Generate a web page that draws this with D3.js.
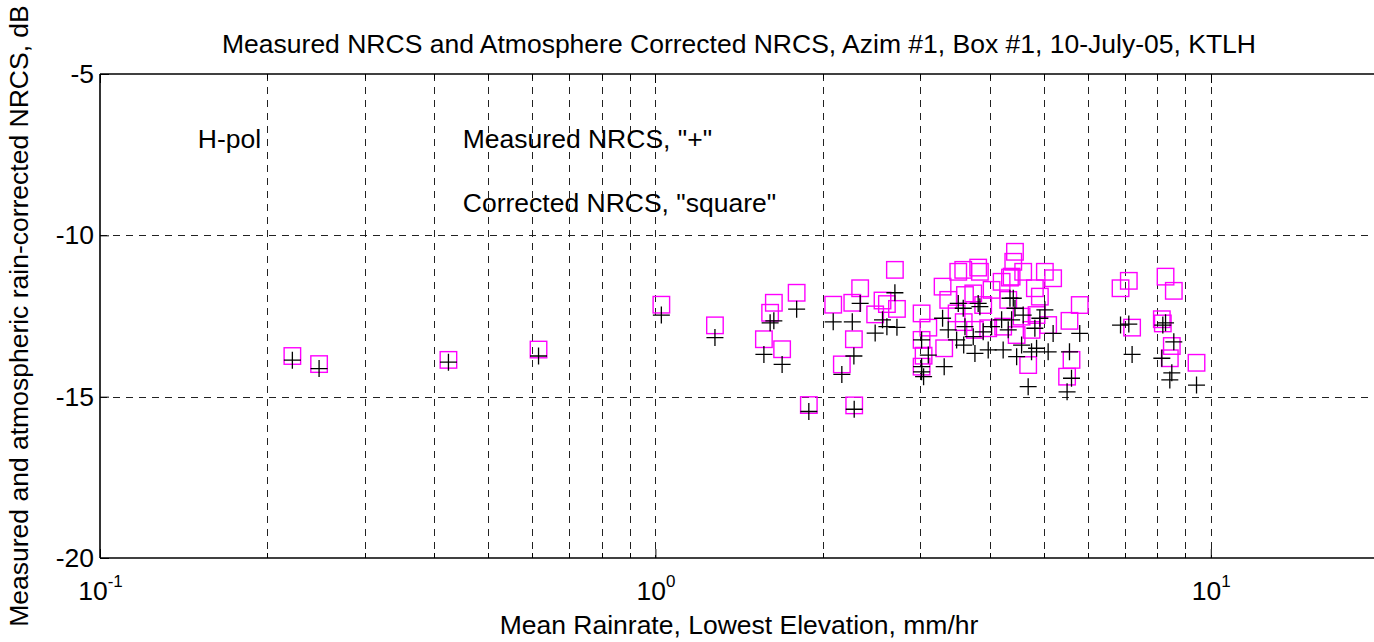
<!DOCTYPE html>
<html>
<head>
<meta charset="utf-8">
<script src="https://cdn.jsdelivr.net/npm/d3@7"></script>
<style>
  body { margin: 0; background: #fff; }
  text { font-family: "Liberation Sans", Arial, Helvetica, sans-serif; fill: #000; }
</style>
</head>
<body>
<svg id="chart" width="1374" height="642"></svg>
<script>
// Mean rain rate at the lowest elevation (mm/hr), one entry per sample
const rainRate = [
  0.222, 0.248, 0.424, 0.616, 1.025, 1.28, 1.634, 1.609, 1.796, 1.568, 1.691, 1.889,
  2.09, 2.262, 2.337, 2.699, 2.277, 2.166, 2.28, 2.564, 2.611, 2.487, 2.722,
  3.015, 3.10, 3.015, 3.04, 3.015, 3.311, 3.289, 3.367, 3.510, 3.583, 3.812, 3.839,
  3.609, 3.735, 3.486, 3.892, 4.030, 3.974, 4.201, 4.349, 4.440, 4.409, 4.379, 4.594,
  4.318, 4.822, 4.923, 5.026, 5.201, 4.564, 4.856, 5.095, 4.690, 4.228, 3.761, 3.59,
  4.471, 4.756,
  5.808, 5.566, 5.613, 5.511, 6.878, 7.118, 7.216, 8.289, 8.578, 8.162, 8.196, 8.507,
  8.437, 9.425
];

// Measured NRCS, dB ("+")
const measuredNRCS = [
  -13.87, -14.13, -13.93, -13.74, -12.47, -13.17, -12.65, -12.71, -12.29, -13.69, -14.00, -15.46,
  -12.68, -12.68, -12.11, -11.78, -13.74, -14.31, -15.39, -12.62, -12.83, -13.03, -12.85,
  -13.24, -13.71, -14.07, -14.38, -14.23, -14.07, -12.57, -12.93, -12.11, -12.26, -12.11, -12.21,
  -12.83, -13.14, -13.24, -12.99, -12.83, -13.55, -12.62, -11.95, -12.26, -11.95, -12.62, -12.47,
  -12.93, -12.88, -12.57, -12.31, -13.04, -13.40, -13.50, -13.61, -14.69, -13.55, -13.66, -13.40,
  -13.76, -13.61,
  -13.04, -13.61, -14.43, -14.85, -12.78, -12.75, -13.69, -12.71, -13.30, -13.81, -12.78, -14.26,
  -14.48, -14.64
];

// Atmosphere / rain corrected NRCS, dB ("square")
const correctedNRCS = [
  -13.74, -13.99, -13.86, -13.54, -12.15, -12.79, -12.09, -12.40, -11.78, -13.22, -13.53, -15.26,
  -12.15, -12.09, -11.64, -11.07, -13.22, -14.00, -15.27, -12.02, -12.13, -12.45, -12.28,
  -12.42, -12.86, -13.24, -13.73, -14.07, -13.50, -11.59, -12.00, -11.13, -11.07, -11.00, -11.13,
  -11.85, -11.80, -12.42, -12.16, -11.69, -12.88, -11.44, -11.31, -10.51, -10.82, -11.28, -11.13,
  -12.00, -11.64, -11.90, -11.13, -11.33, -12.52, -12.47, -12.78, -14.02, -12.83, -12.93, -12.69,
  -13.09, -12.93,
  -12.16, -12.65, -13.86, -14.38, -11.64, -11.41, -12.86, -11.28, -11.72, -12.60, -12.73, -13.43,
  -13.81, -13.95
];

// Axis ticks
const yTicks = [-20, -15, -10, -5];
const xMajorTicks = [0.1, 1, 10];
const xMajorLabels = ["-1", "0", "1"];
const xMinorTicks = [0.2, 0.3, 0.4, 0.5, 0.6, 0.7, 0.8, 0.9, 2, 3, 4, 5, 6, 7, 8, 9];

// Text annotations placed in data coordinates
const notes = [
  { x: 0.15, y: -7, text: "H-pol" },
  { x: 0.45, y: -7, text: "Measured NRCS, \"+\"" },
  { x: 0.45, y: -9, text: "Corrected NRCS, \"square\"" }
];

const titleText = "Measured NRCS and Atmosphere Corrected NRCS, Azim #1, Box #1, 10-July-05, KTLH";
const xLabel = "Mean Rainrate, Lowest Elevation, mm/hr";
const yLabel = "Measured and atmospheric rain-corrected NRCS, dB";

const svg = d3.select("#chart");
const W = 1374, H = 642;
const plotL = 100, plotT = 74, plotR = 1378, plotB = 558;

svg.append("rect").attr("width", W).attr("height", H).attr("fill", "#fff");

const x = d3.scaleLog().domain([0.1, 20]).range([plotL, plotR]);
const y = d3.scaleLinear().domain([-20, -5]).range([plotB, plotT]);

const fontSize = 26.5;
const px = v => Math.round(v) + 0.5;

// Grid lines
const grid = svg.append("g").attr("stroke", "#222").attr("stroke-width", 1)
  .attr("stroke-dasharray", "7,6").attr("fill", "none");
grid.selectAll("line.vx")
  .data(xMinorTicks.concat([1, 10]))
  .join("line")
  .attr("x1", d => px(x(d))).attr("x2", d => px(x(d)))
  .attr("y1", plotT).attr("y2", plotB);
grid.selectAll("line.hy")
  .data([-10, -15])
  .join("line")
  .attr("x1", plotL).attr("x2", plotR)
  .attr("y1", d => px(y(d))).attr("y2", d => px(y(d)));

// Axes (ticks point inward)
const yAxis = svg.append("g")
  .attr("transform", `translate(${plotL},0)`)
  .call(d3.axisLeft(y).tickValues(yTicks).tickSize(-9).tickSizeOuter(0).tickPadding(6).tickFormat(d => String(d)));
yAxis.selectAll("text").attr("font-size", fontSize).style("font-family", "Liberation Sans, Arial, sans-serif");

const xAxis = svg.append("g")
  .attr("transform", `translate(0,${plotB})`)
  .call(d3.axisBottom(x).tickValues(xMajorTicks).tickSize(-9).tickSizeOuter(0).tickPadding(10).tickFormat(() => ""));

xAxis.selectAll(".tick text").each(function (d, i) {
  const t = d3.select(this).attr("font-size", fontSize).attr("dy", "1.2em")
    .style("font-family", "Liberation Sans, Arial, sans-serif");
  t.append("tspan").text("10");
  t.append("tspan").attr("font-size", 17).attr("dy", "-0.75em").text(xMajorLabels[i]);
});

// Minor ticks along top and bottom
svg.append("g").attr("stroke", "#000").attr("stroke-width", 1)
  .selectAll("line")
  .data(xMinorTicks)
  .join("line")
  .attr("x1", d => px(x(d))).attr("x2", d => px(x(d)))
  .attr("y1", plotB).attr("y2", plotB - 5);
svg.append("g").attr("stroke", "#000").attr("stroke-width", 1)
  .selectAll("line")
  .data(xMinorTicks)
  .join("line")
  .attr("x1", d => px(x(d))).attr("x2", d => px(x(d)))
  .attr("y1", plotT).attr("y2", plotT + 5);
svg.append("g").attr("stroke", "#000").attr("stroke-width", 1)
  .selectAll("line")
  .data(xMajorTicks)
  .join("line")
  .attr("x1", d => px(x(d))).attr("x2", d => px(x(d)))
  .attr("y1", plotT).attr("y2", plotT + 9);

// Box edges
svg.append("g").attr("stroke", "#000").attr("stroke-width", 1.6).attr("fill", "none")
  .call(g => {
    g.append("line").attr("x1", plotL).attr("x2", plotR).attr("y1", plotT).attr("y2", plotT);
    g.append("line").attr("x1", plotL).attr("x2", plotR).attr("y1", plotB).attr("y2", plotB);
    g.append("line").attr("x1", plotL).attr("x2", plotL).attr("y1", plotT).attr("y2", plotB);
  });
svg.selectAll(".domain").remove();
svg.selectAll(".tick line").attr("stroke", "#000");

// Markers
const points = rainRate.map((r, i) => ({ r, m: measuredNRCS[i], c: correctedNRCS[i] }));
const sq = 16.5;
svg.append("g").attr("fill", "none").attr("stroke", "#ff00ff").attr("stroke-width", 1.4)
  .selectAll("rect")
  .data(points)
  .join("rect")
  .attr("x", d => x(d.r) - sq / 2)
  .attr("y", d => y(d.c) - sq / 2)
  .attr("width", sq).attr("height", sq);

const arm = 8.5;
svg.append("g").attr("fill", "none").attr("stroke", "#000").attr("stroke-width", 1.3)
  .selectAll("path")
  .data(points)
  .join("path")
  .attr("d", d => {
    const cx = x(d.r), cy = y(d.m);
    return `M${cx - arm},${cy}H${cx + arm}M${cx},${cy - arm}V${cy + arm}`;
  });

// Annotations
svg.append("g").selectAll("text")
  .data(notes)
  .join("text")
  .attr("x", d => x(d.x))
  .attr("y", d => y(d.y))
  .attr("dy", "0.35em")
  .attr("font-size", fontSize)
  .text(d => d.text);

// Title and axis labels
svg.append("text")
  .attr("x", (plotL + plotR) / 2).attr("y", 53)
  .attr("text-anchor", "middle").attr("font-size", fontSize)
  .text(titleText);

svg.append("text")
  .attr("x", (plotL + plotR) / 2).attr("y", 634)
  .attr("text-anchor", "middle").attr("font-size", fontSize)
  .text(xLabel);

svg.append("text")
  .attr("transform", `translate(28,${(plotT + plotB) / 2}) rotate(-90)`)
  .attr("text-anchor", "middle").attr("font-size", fontSize)
  .text(yLabel);
</script>
</body>
</html>
